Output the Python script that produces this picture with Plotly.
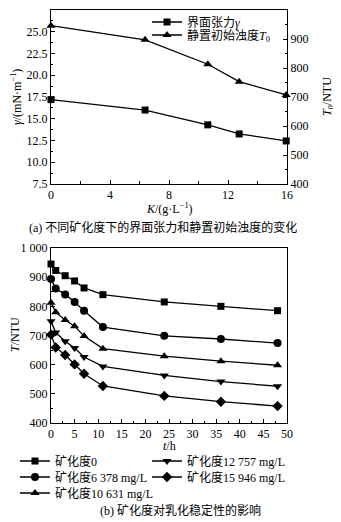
import plotly.graph_objects as go

# ---- data: panel (a)
K = [0, 6.378, 10.631, 12.757, 15.946]
gamma = [17.2, 16.0, 14.3, 13.25, 12.45]
T0 = [946, 897, 813, 753, 707]

# ---- data: panel (b)
t = [0, 1, 3, 5, 7, 11, 24, 36, 48]
series_names = ["矿化度0", "矿化度6 378 mg/L", "矿化度10 631 mg/L",
                "矿化度12 757 mg/L", "矿化度15 946 mg/L"]
T_0 = [945, 923, 905, 887, 863, 840, 815, 800, 785]
T_6378 = [894, 861, 841, 815, 785, 729, 699, 688, 674]
T_10631 = [812, 780, 753, 732, 698, 655, 629, 612, 598]
T_12757 = [749, 710, 680, 657, 626, 594, 563, 542, 526]
T_15946 = [703, 659, 633, 601, 569, 527, 493, 473, 458]
series_vals = [T_0, T_6378, T_10631, T_12757, T_15946]
symbols = ["square", "circle", "triangle-up", "triangle-down", "diamond"]
msizes = [7, 8, 8, 8, 8]

left_ticks = [7.5, 10.0, 12.5, 15.0, 17.5, 20.0, 22.5, 25.0, 27.5]
left_ticktext = ["7.5", "10.0", "12.5", "15.0", "17.5", "20.0", "22.5", "25.0", "27.5"]
ntu_ticks = [400, 500, 600, 700, 800, 900, 1000]
ntu_ticktext = ["400", "500", "600", "700", "800", "900", "1 000"]

FONT = "'Liberation Serif', 'Times New Roman', 'Noto Sans CJK SC', serif"
FS = 12
OFF = 8  # page body margin
W, H = 341 - OFF, 522 - OFF
# plot area in window pixels: x 51..287, y 10..422.7
ML, MT = 51 - OFF, 10 - OFF
MR = W - (287 - OFF)
MB = H - (423 - OFF)
PH = H - MT - MB
PW = W - ML - MR

def py(px):
    return 1 - (px - OFF - MT) / PH

def pxx(px):
    return (px - OFF - ML) / PW

fig = go.Figure()

# panel (a)
fig.add_trace(go.Scatter(x=K, y=gamma, mode="lines+markers", name="界面张力<i>γ</i>",
                         line=dict(color="black", width=1.3),
                         marker=dict(symbol="square", size=7, color="black"),
                         xaxis="x", yaxis="y", legend="legend", cliponaxis=False))
fig.add_trace(go.Scatter(x=K, y=T0, mode="lines+markers", name="静置初始浊度<i>T</i><sub>0</sub>",
                         line=dict(color="black", width=1.3),
                         marker=dict(symbol="triangle-up", size=8, color="black"),
                         xaxis="x", yaxis="y2", legend="legend2", cliponaxis=False))

# panel (b)
legs = ["legend3", "legend4", "legend5", "legend6", "legend7"]
for nm, vals, sym, ms, lg in zip(series_names, series_vals, symbols, msizes, legs):
    fig.add_trace(go.Scatter(x=t, y=vals, mode="lines+markers", name=nm,
                             line=dict(color="black", width=1.3),
                             marker=dict(symbol=sym, size=ms, color="black"),
                             xaxis="x2", yaxis="y3", legend=lg, cliponaxis=False))

axis_common = dict(showline=True, linecolor="black", linewidth=1, ticks="inside",
                   ticklen=4, tickcolor="black", showgrid=False, zeroline=False,
                   tickfont=dict(family=FONT, size=FS, color="black"))

top_dom = [py(184), 1]
bot_dom = [0, py(248)]

def leg(xpx, ypx):
    return dict(x=pxx(xpx), y=py(ypx), xanchor="left", yanchor="middle",
                bgcolor="rgba(0,0,0,0)", font=dict(family=FONT, size=FS),
                itemwidth=30, tracegroupgap=0)

fig.update_layout(
    width=W, height=H, margin=dict(l=ML, r=MR, t=MT, b=MB, autoexpand=False),
    paper_bgcolor="white", plot_bgcolor="white",
    font=dict(family=FONT, size=FS, color="black"),
    xaxis=dict(domain=[0, 1], anchor="y", range=[0, 16], tickvals=[0, 4, 8, 12, 16],
               minor=dict(dtick=2, ticks="inside", ticklen=3, tickcolor="black"),
               mirror=True, **axis_common),
    yaxis=dict(domain=top_dom, anchor="x", range=[7.5, 27.5], tickvals=left_ticks,
               ticktext=left_ticktext,
               minor=dict(dtick=1.25, ticks="inside", ticklen=2, tickcolor="black"),
               **axis_common),
    yaxis2=dict(overlaying="y", side="right", anchor="x", range=[400, 1000],
                tickvals=ntu_ticks, ticktext=ntu_ticktext,
                minor=dict(dtick=50, ticks="inside", ticklen=2, tickcolor="black"),
                **axis_common),
    xaxis2=dict(domain=[0, 1], anchor="y3", range=[0, 50], dtick=5,
                minor=dict(dtick=2.5, ticks="inside", ticklen=2, tickcolor="black"),
                mirror=True, **axis_common),
    yaxis3=dict(domain=bot_dom, anchor="x2", range=[400, 1000], tickvals=ntu_ticks,
                ticktext=ntu_ticktext,
                minor=dict(dtick=50, ticks="inside", ticklen=2, tickcolor="black"),
                mirror=True, **axis_common),
    legend=leg(147, 22),
    legend2=leg(147, 35),
    legend3=leg(15, 461),
    legend4=leg(15, 477),
    legend5=leg(15, 493),
    legend6=leg(147, 461),
    legend7=leg(147, 477),
    showlegend=True,
)

annos = [
    dict(text="<i>γ</i>/(mN·m<sup>−1</sup>)", x=pxx(17), y=py(97), textangle=-90),
    dict(text="<i>T</i><sub>0</sub>/NTU", x=pxx(328), y=py(97), textangle=-90),
    dict(text="<i>K</i>/(g·L<sup>−1</sup>)", x=pxx(169), y=py(209)),
    dict(text="(a) 不同矿化度下的界面张力和静置初始浊度的变化", x=pxx(163), y=py(227)),
    dict(text="<i>T</i>/NTU", x=pxx(15), y=py(335), textangle=-90),
    dict(text="<i>t</i>/h", x=pxx(169), y=py(446)),
    dict(text="(b) 矿化度对乳化稳定性的影响", x=pxx(180), y=py(510)),
]
for a in annos:
    fig.add_annotation(xref="paper", yref="paper", showarrow=False,
                       xanchor="center", yanchor="middle",
                       font=dict(family=FONT, size=FS, color="black"), **a)

fig.write_html("out.html")
